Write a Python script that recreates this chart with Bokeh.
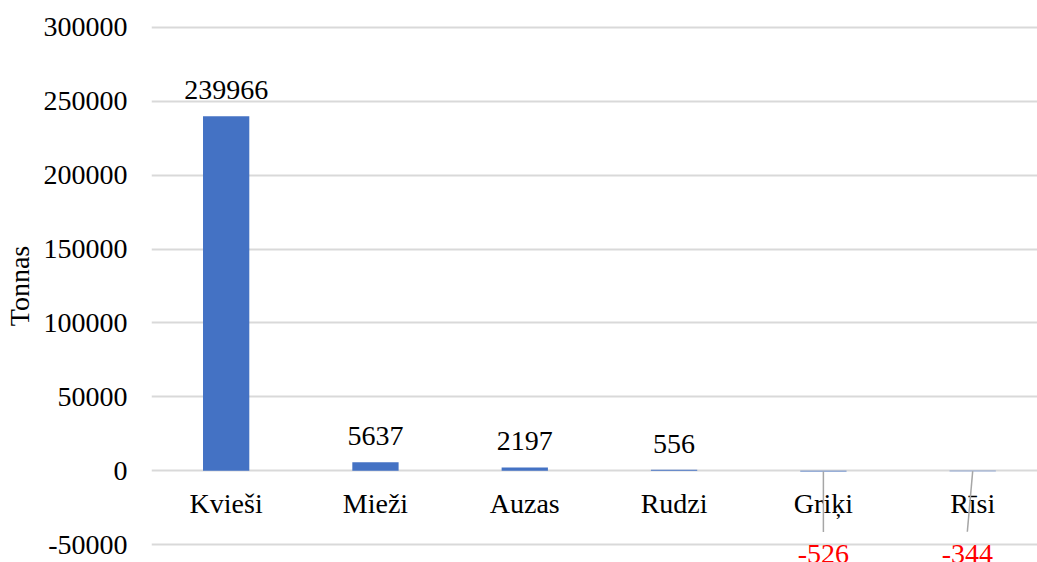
from bokeh.plotting import figure
from bokeh.models import Range1d, FixedTicker, NumeralTickFormatter, ColumnDataSource
from bokeh.core.properties import value
from bokeh.embed import file_html
from bokeh.resources import INLINE

# ---- data ----
categories = ["Kvieši", "Mieži", "Auzas", "Rudzi", "Griķi", "Rīsi"]
tonnas = [239966, 5637, 2197, 556, -526, -344]
y_ticks = [-50000, 0, 50000, 100000, 150000, 200000, 250000, 300000]
y_title = "Tonnas"

# ---- styles ----
FONT = "Liberation Serif"
FS = "28px"
BAR = "#4472C4"
GRID = "#D9D9D9"
NEG = "#FF0000"
LEADER = "#A6A6A6"
label_gap = 26                             # px above bar for positive labels
leader_dx = [0, 0, 0, 0, 0, -0.036]        # leader slant (category units)
leader_drop = 41000                        # leader length (data units)
y_pad = 12184                              # frame padding (data units)

xs = [i + 0.5 for i in range(len(categories))]

p = figure(width=1037, height=562, output_backend="svg", toolbar_location=None,
           x_range=Range1d(0, 5.934),
           y_range=Range1d(y_ticks[0] - y_pad, y_ticks[-1] + y_pad),
           min_border_top=9, min_border_bottom=0, min_border_right=0, min_border_left=0)
p.outline_line_color = None
p.background_fill_color = "white"
p.border_fill_color = "white"

p.xaxis.visible = False
p.xgrid.visible = False
p.ygrid.grid_line_color = GRID
p.ygrid.grid_line_width = 2

ya = p.yaxis[0]
ya.ticker = FixedTicker(ticks=y_ticks)
ya.formatter = NumeralTickFormatter(format="0")
ya.axis_line_color = None
ya.major_tick_line_color = None
ya.minor_tick_line_color = None
ya.major_tick_out = 0
ya.major_tick_in = 0
ya.major_label_standoff = 24
ya.major_label_text_font = FONT
ya.major_label_text_font_size = FS
ya.major_label_text_color = "black"
ya.axis_label = y_title
ya.axis_label_text_font = FONT
ya.axis_label_text_font_size = FS
ya.axis_label_text_font_style = "normal"
ya.axis_label_text_color = "black"
ya.axis_label_standoff = 6

src = ColumnDataSource(dict(x=xs, top=tonnas, cat=categories))
p.vbar(x="x", top="top", bottom=0, width=0.31, source=src, fill_color=BAR, line_color=None)

# category labels at zero line
p.text(x="x", y=0, text="cat", source=src, text_font=value(FONT), text_font_size=FS,
       text_color="black", text_align="center", text_baseline="alphabetic", y_offset=33)

# positive value labels
pos = [i for i, v in enumerate(tonnas) if v >= 0]
psrc = ColumnDataSource(dict(x=[xs[i] for i in pos], y=[tonnas[i] for i in pos],
                             t=[str(tonnas[i]) for i in pos]))
p.text(x="x", y="y", text="t", source=psrc, y_offset=-label_gap, text_font=value(FONT),
       text_font_size=FS, text_color="black", text_align="center", text_baseline="alphabetic")

# negative value labels with leader lines
neg = [i for i, v in enumerate(tonnas) if v < 0]
nsrc = ColumnDataSource(dict(x0=[xs[i] for i in neg], y0=[tonnas[i] for i in neg],
                             x1=[xs[i] + leader_dx[i] for i in neg],
                             y1=[tonnas[i] - leader_drop for i in neg],
                             t=[str(tonnas[i]) for i in neg]))
p.text(x="x1", y="y1", text="t", source=nsrc, y_offset=13, text_font=value(FONT),
       text_font_size=FS, text_color=NEG, text_align="center", text_baseline="top")
p.segment(x0="x0", y0="y0", x1="x1", y1="y1", source=nsrc, line_color=LEADER, line_width=1.5)

open("out.html", "w").write(file_html(p, INLINE))
